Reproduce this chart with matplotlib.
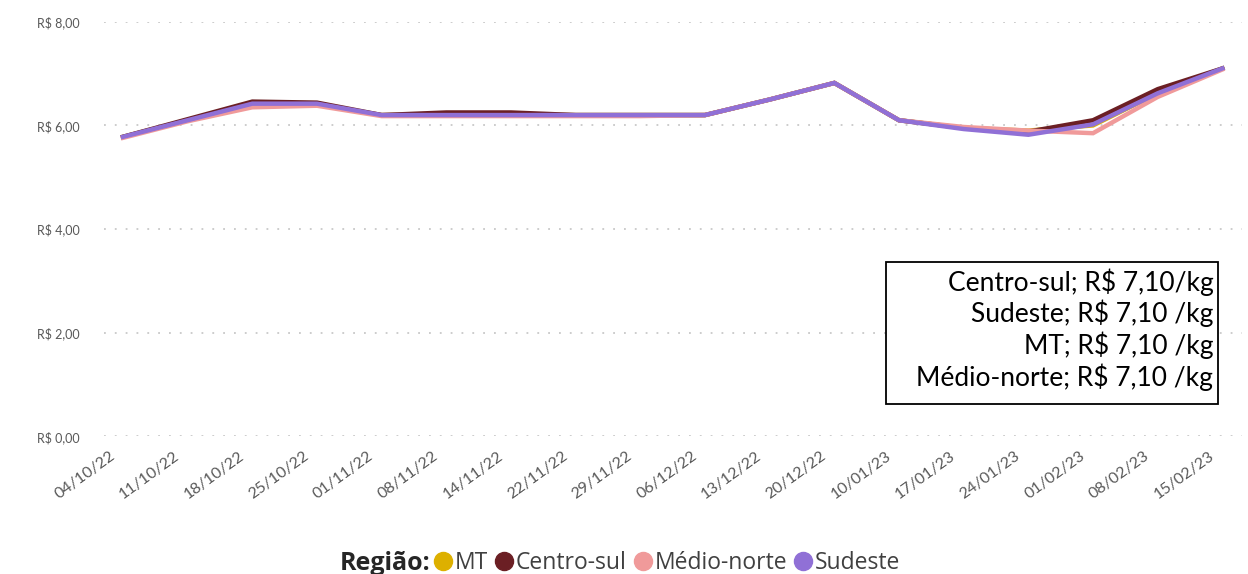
import matplotlib.pyplot as plt
import matplotlib.transforms as mtransforms
from matplotlib.lines import Line2D
from matplotlib.patches import Rectangle
from matplotlib.ticker import FuncFormatter

plt.rcParams['font.family'] = ['Lato', 'DejaVu Sans']

datas = ["04/10/22", "11/10/22", "18/10/22", "25/10/22", "01/11/22", "08/11/22",
         "14/11/22", "22/11/22", "29/11/22", "06/12/22", "13/12/22", "20/12/22",
         "10/01/23", "17/01/23", "24/01/23", "01/02/23", "08/02/23", "15/02/23"]

mt = [5.78, 6.10, 6.40, 6.40, 6.20, 6.22, 6.22, 6.20, 6.20, 6.20, 6.50, 6.82,
      6.10, 5.95, 5.90, 6.00, 6.62, 7.10]
centro_sul = [5.78, 6.12, 6.46, 6.44, 6.20, 6.25, 6.25, 6.20, 6.20, 6.20, 6.50, 6.82,
              6.10, 5.95, 5.88, 6.10, 6.70, 7.10]
medio_norte = [5.76, 6.08, 6.35, 6.38, 6.18, 6.18, 6.18, 6.18, 6.18, 6.20, 6.50, 6.82,
               6.10, 5.97, 5.90, 5.85, 6.55, 7.08]
sudeste = [5.78, 6.10, 6.42, 6.42, 6.20, 6.20, 6.20, 6.20, 6.20, 6.20, 6.50, 6.82,
           6.10, 5.93, 5.82, 6.02, 6.62, 7.10]

series = [("MT", mt, "#DDB000"),
          ("Centro-sul", centro_sul, "#6B1F24"),
          ("Médio-norte", medio_norte, "#F09A9A"),
          ("Sudeste", sudeste, "#9070D6")]

rotulo = "Centro-sul; R$ 7,10/kg\nSudeste; R$ 7,10 /kg\nMT; R$ 7,10 /kg\nMédio-norte; R$ 7,10 /kg"

fig = plt.figure(figsize=(12.48, 5.74), dpi=100)
ax = fig.add_axes([0.083, 0.24, 0.912, 0.722])

x = list(range(len(datas)))
for nome, vals, cor in series:
    ax.plot(x, vals, color=cor, linewidth=3.2, solid_joinstyle='miter')

ax.set_ylim(0, 8)
ax.set_xlim(-0.3, len(datas) - 0.7)
ax.set_yticks([0, 2, 4, 6, 8])
ax.yaxis.set_major_formatter(FuncFormatter(lambda v, p: f"R$ {v:.2f}".replace(".", ",")))
ax.set_xticks(x)
ax.set_xticklabels(datas, rotation=36, ha='right', rotation_mode='anchor')
ax.tick_params(axis='y', length=0, labelsize=9, colors='#595959', pad=17)
ax.tick_params(axis='x', length=0, labelsize=11.5, colors='#595959', pad=9)
shift = mtransforms.ScaledTranslation(-10 / 72, 0, fig.dpi_scale_trans)
for lab in ax.get_xticklabels():
    lab.set_transform(lab.get_transform() + shift)
ax.grid(axis='y', linestyle=(0, (1, 5)), color='#c8c8c8', linewidth=1.3)
for s in ax.spines.values():
    s.set_visible(False)

# caixa de rótulos
ax.add_patch(Rectangle((0.6875, 0.0777), 0.2915, 0.3427, transform=ax.transAxes,
                       facecolor='white', edgecolor='black', linewidth=1.3, zorder=3))
ax.text(0.975, 0.2575, rotulo, transform=ax.transAxes, ha='right', va='center',
        multialignment='right', fontsize=19, linespacing=1.19, color='black', zorder=4)

fig.text(0.345, 0.019, "Região:", fontsize=18, color='#262626', va='center', ha='right',
         fontweight='bold', family=['Open Sans', 'DejaVu Sans'])
handles = [Line2D([], [], linestyle='none', marker='o', markersize=13, color=c) for _, _, c in series]
fig.legend(handles, [n for n, _, _ in series], loc='center left', bbox_to_anchor=(0.3474, 0.019),
           ncol=4, frameon=False, handlelength=0.8, handletextpad=0.12,
           columnspacing=0.3, labelcolor='#404040', borderpad=0, borderaxespad=0,
           prop={'family': ['Open Sans', 'DejaVu Sans'], 'size': 16.5})

fig.savefig("out.png", dpi=100)
